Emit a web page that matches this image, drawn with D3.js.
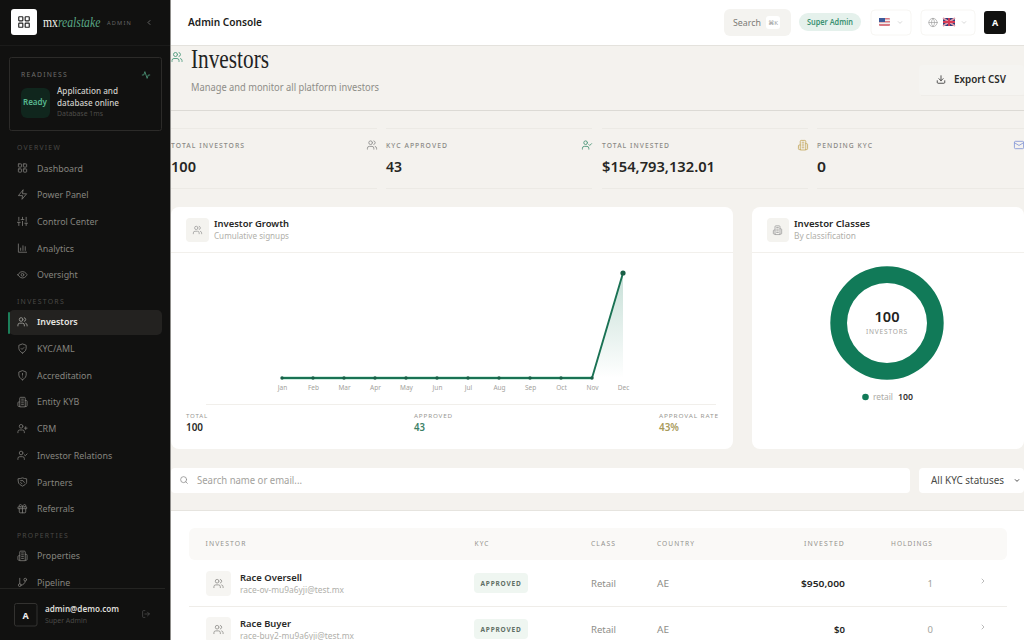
<!DOCTYPE html>
<html><head><meta charset="utf-8">
<style>html,body{margin:0;padding:0;background:#f4f2ee;overflow:hidden}svg{display:block}text{font-family:"Noto Sans",Inter,sans-serif}</style>
<script src="https://cdn.jsdelivr.net/npm/d3@7"></script></head><body>
<script>
const months=["Jan","Feb","Mar","Apr","May","Jun","Jul","Aug","Sep","Oct","Nov","Dec"];
const cumulativeSignups=[0,0,0,0,0,0,0,0,0,0,0,100];
const classNames=["retail"];
const classValues=[100];
const navSections=["OVERVIEW","INVESTORS","PROPERTIES"];
const navItems=[["Dashboard","Power Panel","Control Center","Analytics","Oversight"],["Investors","KYC/AML","Accreditation","Entity KYB","CRM","Investor Relations","Partners","Referrals"],["Properties","Pipeline"]];
const navIcons=[["grid","zap","sliders","bars","eye"],["users","shieldCheck","shieldAlert","building","userPlus","userCheck","shake","gift"],["building","branch"]];
const kpiLabels=["TOTAL INVESTORS","KYC APPROVED","TOTAL INVESTED","PENDING KYC"];
const kpiValues=["100","43","$154,793,132.01","0"];
const statLabels=["TOTAL","APPROVED","APPROVAL RATE"];
const statValues=["100","43","43%"];
const tableColumns=["INVESTOR","KYC","CLASS","COUNTRY","INVESTED","HOLDINGS"];
const investorNames=["Race Oversell","Race Buyer"];
const investorEmails=["race-ov-mu9a6yji@test.mx","race-buy2-mu9a6yji@test.mx"];
const investorKyc=["APPROVED","APPROVED"];
const investorClass=["Retail","Retail"];
const investorCountry=["AE","AE"];
const investorInvested=["$950,000","$0"];
const investorHoldings=["1","0"];

const P={
users:"M16 21v-2a4 4 0 0 0-4-4H6a4 4 0 0 0-4 4v2M13 7a4 4 0 1 1-8 0 4 4 0 0 1 8 0M22 21v-2a4 4 0 0 0-3-3.87M16 3.13a4 4 0 0 1 0 7.75",
grid:"M4 3h5a1 1 0 0 1 1 1v5a1 1 0 0 1-1 1H4a1 1 0 0 1-1-1V4a1 1 0 0 1 1-1zM15 3h5a1 1 0 0 1 1 1v5a1 1 0 0 1-1 1h-5a1 1 0 0 1-1-1V4a1 1 0 0 1 1-1zM15 14h5a1 1 0 0 1 1 1v5a1 1 0 0 1-1 1h-5a1 1 0 0 1-1-1v-5a1 1 0 0 1 1-1zM4 14h5a1 1 0 0 1 1 1v5a1 1 0 0 1-1 1H4a1 1 0 0 1-1-1v-5a1 1 0 0 1 1-1z",
zap:"M13 2 3 14h9l-1 8 10-12h-9l1-8z",
sliders:"M4 21v-7M4 10V3M12 21v-9M12 8V3M20 21v-5M20 12V3M1 14h6M9 8h6M17 16h6",
bars:"M3 3v18h18M8 17v-5M13 17V7M18 17v-8",
eye:"M2 12s3.5-7 10-7 10 7 10 7-3.5 7-10 7-10-7-10-7zM15 12a3 3 0 1 1-6 0 3 3 0 0 1 6 0",
shieldCheck:"M12 22s8-4 8-10V5l-8-3-8 3v7c0 6 8 10 8 10zM9 12l2 2 4-4",
shieldAlert:"M12 22s8-4 8-10V5l-8-3-8 3v7c0 6 8 10 8 10zM12 8v4M12 16h.01",
building:"M6 22V4a2 2 0 0 1 2-2h8a2 2 0 0 1 2 2v18zM6 12H4a2 2 0 0 0-2 2v6a2 2 0 0 0 2 2h2M18 9h2a2 2 0 0 1 2 2v9a2 2 0 0 1-2 2h-2M10 6h4M10 10h4M10 14h4M10 18h4",
userPlus:"M16 21v-2a4 4 0 0 0-4-4H6a4 4 0 0 0-4 4v2M13 7a4 4 0 1 1-8 0 4 4 0 0 1 8 0M19 8v6M22 11h-6",
userCheck:"M16 21v-2a4 4 0 0 0-4-4H6a4 4 0 0 0-4 4v2M13 7a4 4 0 1 1-8 0 4 4 0 0 1 8 0M16 11l2 2 4-4",
shake:"M3 5c3 0 6-1 9-2 3 1 6 2 9 2v8c0 3-5 6-9 8-4-2-9-5-9-8zM8 9h5l3 4M8 13l3 3",
gift:"M3 8h18v4H3zM12 8v13M19 12v7a2 2 0 0 1-2 2H7a2 2 0 0 1-2-2v-7M7.5 8a2.5 2.5 0 0 1 0-5C11 3 12 8 12 8s1-5 4.5-5a2.5 2.5 0 0 1 0 5",
branch:"M6 3v12M21 6a3 3 0 1 1-6 0 3 3 0 0 1 6 0M9 18a3 3 0 1 1-6 0 3 3 0 0 1 6 0M18 9a9 9 0 0 1-9 9",
activity:"M22 12h-4l-3 9L9 3l-3 9H2",
logout:"M9 21H5a2 2 0 0 1-2-2V5a2 2 0 0 1 2-2h4M16 17l5-5-5-5M21 12H9",
download:"M21 15v4a2 2 0 0 1-2 2H5a2 2 0 0 1-2-2v-4M7 10l5 5 5-5M12 15V3",
mail:"M2 6a2 2 0 0 1 2-2h16a2 2 0 0 1 2 2v12a2 2 0 0 1-2 2H4a2 2 0 0 1-2-2zM22 7l-10 6L2 7",
search:"M19 11a8 8 0 1 1-16 0 8 8 0 0 1 16 0M21 21l-4.3-4.3",
globe:"M22 12a10 10 0 1 1-20 0 10 10 0 0 1 20 0M2 12h20M12 2a15 15 0 0 1 0 20a15 15 0 0 1 0-20",
down:"M6 9l6 6 6-6",right:"M9 18l6-6-6-6",left:"M15 18l-6-6 6-6"};

const svg=d3.select("body").append("svg").attr("width",1024).attr("height",640).attr("viewBox","0 0 1024 640");
function R(x0,y0,x1,y1,fill,o={}){return svg.append("rect").attr("x",x0).attr("y",y0).attr("width",x1-x0).attr("height",y1-y0).attr("fill",fill).attr("rx",o.r||0).attr("stroke",o.s||"none").attr("stroke-width",o.s?(o.sw||1):0)}
function T(s,x,y,size,fill,o={}){const t=svg.append("text").text(s).attr("x",x).attr("y",y).attr("font-size",size).attr("fill",fill).attr("font-weight",o.w||400).attr("text-anchor",o.a||"start");
 if(o.ls)t.attr("letter-spacing",o.ls);if(o.f)t.style("font-family",o.f);if(o.st)t.attr("font-style",o.st);
 if(o.fit)t.attr("textLength",o.fit).attr("lengthAdjust","spacingAndGlyphs");return t}
function I(name,cx,cy,size,color,sw){const k=size/24;svg.append("path").attr("d",P[name]).attr("transform",`translate(${cx-size/2},${cy-size/2}) scale(${k})`).attr("fill","none").attr("stroke",color).attr("stroke-width",sw||2).attr("stroke-linecap","round").attr("stroke-linejoin","round")}
function L(x0,y0,x1,y1,c){svg.append("line").attr("x1",x0).attr("y1",y0).attr("x2",x1).attr("y2",y1).attr("stroke",c).attr("stroke-width",1)}

/* main bg + header */
R(0,0,1024,640,"#f4f2ee");
R(171,0,1024,45,"#ffffff");L(171,45.5,1024,45.5,"#e4e2dd");
T("Admin Console",188,26,10.5,"#1c1c1a",{w:600,fit:74});
R(724,9,791,36,"#f4f3f0",{r:6});T("Search",733,26,9,"#7c7b77",{fit:28});R(766,16,780,29,"#fff",{r:3});T("⌘K",773,25,6,"#999",{a:"middle"});
R(799,13,861,31,"#e5f1ec",{r:9});T("Super Admin",830,25,8,"#3b9273",{w:600,a:"middle",fit:46});
R(871,10,911,35,"#fff",{r:4,s:"#f7f6f3"});
R(921,10,975,35,"#fff",{r:4,s:"#f7f6f3"});
/* flags */
R(879,18,890,26,"#d97a84",{r:1});R(879,19.5,890,21,"#eee");R(879,22.5,890,24,"#eee");R(879,18,885,22,"#3c5a9a");
I("down",900,22.5,7,"#bbb");
I("globe",933,22.5,10,"#999",1.5);
R(943,18,955,26,"#2f3f7e",{r:1.5});svg.append("path").attr("d","M943 18l12 8M955 18l-12 8").attr("stroke","#e6a0ac").attr("stroke-width",1.6);svg.append("path").attr("d","M949 18v8M943 22h12").attr("stroke","#d63a55").attr("stroke-width",1.8);
I("down",964,22.5,7,"#bbb");
R(984,11,1006,34,"#111110",{r:3});T("A",995,26,9,"#fff",{w:700,a:"middle"});

/* page head */
I("users",177,57,12,"#4c9a7c",1.8);
T("Investors",191,68,27,"#22221f",{f:'"Liberation Serif",serif',fit:78});
T("Manage and monitor all platform investors",191,91,10,"#8e8d88",{fit:188});
L(171,110.5,1024,110.5,"#dcdad5");
R(919,65,1024,95,"#f5f4f1",{r:4});L(921,95.5,1024,95.5,"#efede9");
I("download",941,79.5,10,"#333",2);
T("Export CSV",954,83,10,"#2a2a28",{w:600,fit:52});

/* KPIs */
const kx=[171,386,602,817],kx2=[377,592,808,1024];
const kIcon=[["users","#888"],["userCheck","#3f8f70"],["building","#c4a85c"],["mail","#7f93d6"]];
const kIconX=[372,587,803,1019];
const kFit=[74,62,68,56];
const kvFit=[25,16,113,9];
kpiLabels.forEach((l,i)=>{L(kx[i],128.5,kx2[i],128.5,"#eceae5");L(kx[i],188.5,kx2[i],188.5,"#eceae5");
 T(l,kx[i],148,6.5,"#8a8985",{ls:1,w:500,fit:kFit[i]});
 T(kpiValues[i],kx[i],171.5,14,"#262624",{w:600,fit:kvFit[i]});
 I(kIcon[i][0],kIconX[i],145,11,kIcon[i][1],1.8);});

/* Growth card */
R(171,207,733,449,"#fff",{r:8});L(171,252.5,733,252.5,"#f2f0ec");
R(186,218,209,242,"#f4f3ef",{r:4});I("users",197.5,230,10,"#999",1.8);
T("Investor Growth",214,227,9.5,"#262624",{w:600,fit:75});
T("Cumulative signups",214,239,8,"#b0afaa",{fit:75});
const x=d3.scalePoint().domain(months).range([282,623]);
const y=d3.scaleLinear().domain([0,100]).range([378,273]);
const defs=svg.append("defs");
const g=defs.append("linearGradient").attr("id","ag").attr("x1",0).attr("x2",0).attr("y1",0).attr("y2",1);
g.append("stop").attr("offset",0).attr("stop-color","#137a58").attr("stop-opacity",.24);
g.append("stop").attr("offset",1).attr("stop-color","#137a58").attr("stop-opacity",0);
const pts=months.map((m,i)=>({m,v:cumulativeSignups[i]}));
svg.append("path").datum(pts).attr("fill","url(#ag)").attr("d",d3.area().x(d=>x(d.m)).y0(y(0)).y1(d=>y(d.v)));
svg.append("path").datum(pts.slice(0,11)).attr("fill","none").attr("stroke","#bfe6d4").attr("stroke-width",3.4).attr("d",d3.line().x(d=>x(d.m)).y(d=>y(d.v)));
svg.append("path").datum(pts).attr("fill","none").attr("stroke","#1a7254").attr("stroke-width",1.9).attr("d",d3.line().x(d=>x(d.m)).y(d=>y(d.v)));
svg.selectAll(".dot").data(pts).join("circle").attr("class","dot").attr("cx",d=>x(d.m)).attr("cy",d=>y(d.v)).attr("r",(d,i)=>i===11?2.6:1.7).attr("fill","#1a5f47");
const ax=svg.append("g").attr("transform","translate(0,382)").call(d3.axisBottom(x).tickSize(0).tickPadding(0));
ax.select(".domain").remove();
ax.selectAll("text").attr("font-size",6.5).attr("fill","#a3a29d").attr("dy",0).attr("y",8);
L(206,404.5,716,404.5,"#f1efeb");
const sx=[186,414,659],sc=["#2a2a28","#3b7f66","#a89a5a"],sf=[22,39,60],svf=[17,11,20];
statLabels.forEach((l,i)=>{T(l,sx[i],417.5,6,"#999893",{ls:.8,fit:sf[i]});T(statValues[i],sx[i],431,10,sc[i],{w:600,fit:svf[i]});});

/* Classes card */
R(752,207,1024,449,"#fff",{r:8});L(752,252.5,1024,252.5,"#f2f0ec");
R(767,218,789,242,"#f4f3ef",{r:4});I("building",777.5,230,10,"#999",1.8);
T("Investor Classes",794,227,9.5,"#262624",{w:600,fit:76});
T("By classification",794,239,8,"#b0afaa",{fit:62});
const color=d3.scaleOrdinal().domain(classNames).range(["#117a58"]);
const pie=d3.pie().sort(null)(classValues);
const arc=d3.arc().innerRadius(40).outerRadius(56.7);
svg.append("g").attr("transform","translate(887,323)").selectAll("path").data(pie).join("path").attr("d",arc).attr("fill",(d,i)=>color(classNames[i]));
T(d3.sum(classValues),887,322,14,"#222220",{w:600,a:"middle",fit:25});
T("INVESTORS",887,334,6.5,"#a3a29d",{a:"middle",ls:.8,fit:42});
classNames.forEach((n,i)=>{svg.append("circle").attr("cx",865.5).attr("cy",397).attr("r",3.3).attr("fill",color(n));
 T(n,873,400,8,"#acaba6",{fit:20});T(classValues[i],898,400,8.5,"#333",{w:600,fit:15});});

/* filters */
R(171,468,910,493,"#fff",{r:4});I("search",184,480,9,"#888",2);
T("Search name or email...",197,484,10,"#a3a29d",{fit:105});
R(919,468,1024,493,"#fff",{r:4});T("All KYC statuses",931,484,10,"#4a4a47",{fit:73});I("down",1017,480.5,7,"#333",3);

/* table */
R(171,511,1024,640,"#fff");L(171,510.5,1024,510.5,"#e6e4df");
R(189,528,1007,560,"#faf9f7",{r:6});
const colX=[205.5,474.5,591,657,845,933],colA=["start","start","start","start","end","end"],colF=[41,15,25,38,41,42];
tableColumns.forEach((c,i)=>T(c,colX[i],546,6.2,"#94938e",{ls:1,a:colA[i],fit:colF[i]}));
L(189,606.5,1007,606.5,"#efede9");
const rowOff=[0,46],nameF=[62,51],mailF=[104,114],invF=[44,11];
investorNames.forEach((n,i)=>{const d=rowOff[i];
 R(206,571+d,231,596+d,"#f6f5f2",{r:4});I("users",218.5,583.5+d,11,"#8f8e8a",1.8);
 T(n,240,581+d,9.5,"#2a2a28",{w:600,fit:nameF[i]});
 T(investorEmails[i],240,593+d,8,"#b0afaa",{fit:mailF[i]});
 R(474,573+d,528,593+d,"#eff6f1",{r:4});T(investorKyc[i],501,586+d,6.5,"#5f6f65",{w:700,a:"middle",ls:.8,fit:41});
 T(investorClass[i],591,587+d,9.5,"#8e8d88",{fit:25});
 T(investorCountry[i],657,587+d,9.5,"#8e8d88",{fit:12});
 T(investorInvested[i],845,587+d,9.5,"#262624",{w:600,a:"end",fit:invF[i]});
 T(investorHoldings[i],933,587+d,9.5,"#a3a29d",{a:"end"});
 I("right",983,581+d,8,"#999",2);
});

/* sidebar */
R(0,0,170,640,"#111110");R(170,0,171,640,"#8f8e8b");
R(11,9,37,35,"#fff",{r:3});I("grid",24,22,14,"#222",2);
const logo=svg.append("text").attr("transform","translate(43,27) scale(.78,1)").attr("font-size",15).style("font-family",'"Liberation Serif",serif');
logo.append("tspan").attr("fill","#f2f1ec").text("mx");
logo.append("tspan").attr("fill","#5aa886").attr("font-style","italic").text("realstake");
T("ADMIN",107,25,5.8,"#666",{ls:1.2,fit:25});I("left",149,22.5,8,"#777",2.4);
L(0,45.5,170,45.5,"#1b1b1a");
R(9.5,57.5,161.5,130.5,"none",{r:2,s:"#2c2b29"});
T("READINESS",21,77,6.5,"#6f6e6a",{ls:1.2,fit:47});I("activity",146,75,9,"#4f9a7c",2.2);
R(21,88,50,118,"#10261d",{r:6});T("Ready",35,105,9,"#58b88f",{w:600,a:"middle",fit:24});
T("Application and",57,94,9,"#cfcec9",{w:500,fit:61});T("database online",57,105.5,9,"#cfcec9",{w:500,fit:62});
T("Database 1ms",57,116,6.5,"#4d4c49",{fit:46});
R(9,310,162,335,"#232220",{r:5});R(8,312,10,334,"#1c7f5a",{r:1});
let ny=168;
navItems.forEach((items,si)=>{
 T(navSections[si],17,ny-18,6.5,"#4a4946",{ls:1.2,fit:[44,48,52][si]});
 items.forEach((it,i)=>{const active=it==="Investors";
  I(navIcons[si][i],22.5,ny,11,active?"#a5a5a0":"#7d7c78",1.8);
  T(it,37,ny+3.5,8.9,active?"#e8e7e2":"#85847f",{w:active?600:400});
  ny+=26.7;});
 ny+=20.3;
});
R(0,589,170,640,"#111110");L(0,588.5,165,588.5,"#242422");
R(14.5,603.5,37,626,"none",{r:2,s:"#333230"});T("A",25.5,619,9,"#eee",{w:700,a:"middle"});
T("admin@demo.com",45,612,9,"#dddcd7",{w:600,fit:74});T("Super Admin",45,623,6.5,"#4a4946",{fit:42});
I("logout",146,614,9,"#555",1.8);
</script></body></html>
